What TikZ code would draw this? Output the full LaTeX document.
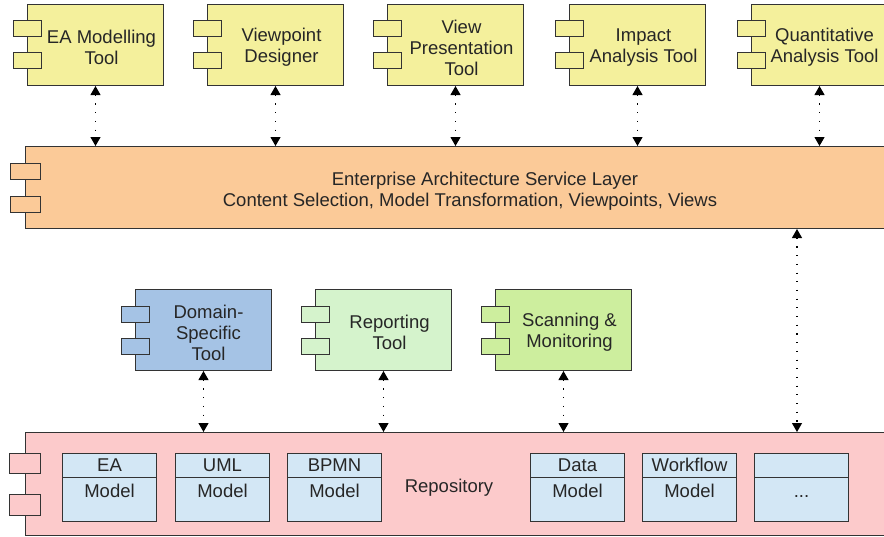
\documentclass[tikz,border=0pt]{standalone}
\usepackage{fontspec}
\setmainfont{Liberation Sans}
\usetikzlibrary{arrows.meta,calc}
\definecolor{cyel}{HTML}{F4F09C}
\definecolor{corg}{HTML}{FBCA98}
\definecolor{cblu}{HTML}{A5C3E5}
\definecolor{clgr}{HTML}{D5F3CC}
\definecolor{cgrn}{HTML}{CDEE9E}
\definecolor{cpnk}{HTML}{FCCACB}
\definecolor{cmod}{HTML}{D3E7F5}
\definecolor{cbor}{HTML}{333333}
\newcommand\mydots{...}
\tikzset{
  box/.style={draw=cbor, line width=1pt, anchor=north west, inner sep=0pt, rectangle},
  tool/.style={box, minimum width=136pt, minimum height=81pt},
  modelbox/.style={box, fill=cmod, minimum width=94pt, minimum height=68pt},
  port/.style={draw=cbor, line width=1pt},
  txt/.style={font=\fontsize{18.5}{21}\selectfont, text=black!85, align=center, inner sep=0pt, yshift=-2.5pt},
  darr/.style={line width=1.1pt, dash pattern=on 1.1pt off 7.6pt,
    {Triangle[width=10pt,length=9pt]}-{Triangle[width=10pt,length=9pt]}},
}
\newcommand\ports[3]{% node, fill, offset of first port
  \draw[port, fill=#2] ($(#1.north west)+(-14,#3)$) rectangle +(28,16);
  \draw[port, fill=#2] ($(#1.north west)+(-14,#3+32)$) rectangle +(28,16);
}
\begin{document}
\begin{tikzpicture}[x=1pt, y=-1pt]
\useasboundingbox (0,0) rectangle (884,536);
\clip (0,0) rectangle (884,536);
% top tools
\node[tool, fill=cyel] (ea) at (27,4) {};
\node[tool, fill=cyel] (vd) at (207,4) {};
\node[tool, fill=cyel] (vp) at (387,4) {};
\node[tool, fill=cyel] (ia) at (569,4) {};
\node[tool, fill=cyel] (qa) at (751,4) {};
\foreach \n in {ea,vd,vp,ia,qa} {\ports{\n}{cyel}{16}}
\node[txt] (eat) at ($(ea.center)+(6,0)$) {EA Modelling\\Tool};
\node[txt] (vdt) at ($(vd.center)+(6,0)$) {Viewpoint\\Designer};
\node[txt] (vpt) at ($(vp.center)+(6,0)$) {View\\Presentation\\Tool};
\node[txt] (iat) at ($(ia.center)+(6,0)$) {Impact\\Analysis Tool};
\node[txt] (qat) at ($(qa.center)+(5,0)$) {Quantitative\\Analysis Tool};
% service layer
\node[box, fill=corg, minimum width=900pt, minimum height=82pt] (esl) at (25,146) {};
\draw[port, fill=corg] ($(esl.north west)+(-15,17)$) rectangle +(30,16);
\draw[port, fill=corg] ($(esl.north west)+(-15,50)$) rectangle +(30,16);
\node[txt] (eslt) at (470,189) {\hspace*{30pt}Enterprise Architecture Service Layer\\Content Selection, Model Transformation, Viewpoints, Views};
% middle tools
\node[tool, fill=cblu] (ds) at (135,289) {};
\node[tool, fill=clgr] (rt) at (315,289) {};
\node[tool, fill=cgrn] (sm) at (495,289) {};
\foreach \n/\c in {ds/cblu,rt/clgr,sm/cgrn} {\ports{\n}{\c}{17}}
\node[txt] (dst) at ($(ds.center)+(5,0)$) {Domain-\\Specific\\Tool};
\node[txt] (rtt) at ($(rt.center)+(6,0)$) {Reporting\\Tool};
\node[txt] (smt) at ($(sm.center)+(6,0)$) {Scanning \&\\Monitoring};
% repository
\node[box, fill=cpnk, minimum width=900pt, minimum height=103pt] (repo) at (25,432) {};
\draw[port, fill=cpnk] ($(repo.north west)+(-16,21)$) rectangle +(31,20);
\draw[port, fill=cpnk] ($(repo.north west)+(-16,62)$) rectangle +(31,21);
\node[txt] (repot) at (449,485) {Repository};
\foreach \n/\x/\a/\b in {mea/62/EA/Model, muml/175/UML/Model, mbpmn/287/BPMN/Model, mdata/530/Data/Model, mwf/642/Workflow/Model, mdots/754/{}/\mydots} {
  \node[modelbox] (\n) at (\x,453) {};
  \draw[port] ($(\n.north west)+(0,24)$) -- ($(\n.north east)+(0,24)$);
  \node[txt] (\n a) at ($(\n.north)+(0,12)$) {\strut\a};
  \node[txt] (\n b) at ($(\n.north)+(0,38)$) {\strut\b};
}
% connectors
\foreach \n in {ea,vd,vp,ia,qa} {\draw[darr] (\n.south) -- (\n.south |- esl.north);}
\foreach \n in {ds,rt,sm} {\draw[darr] (\n.south) -- (\n.south |- repo.north);}
\coordinate (lx) at (797,0);
\draw[darr] (esl.south -| lx) -- (repo.north -| lx);
\end{tikzpicture}
\end{document}
